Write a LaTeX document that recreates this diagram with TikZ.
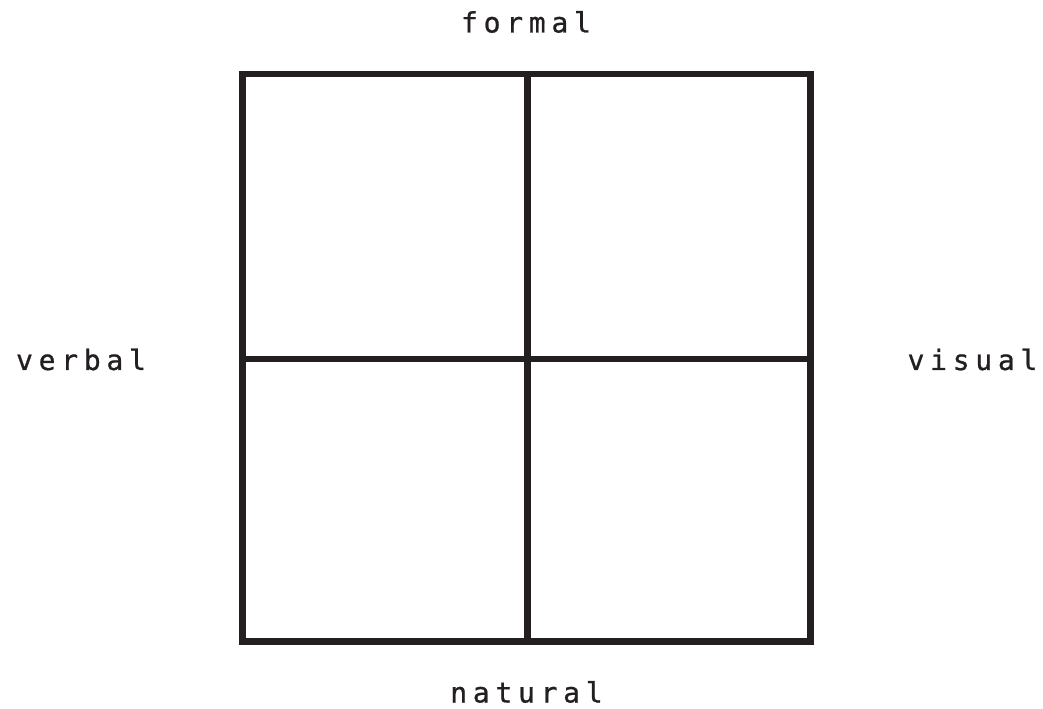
\documentclass[tikz,border=0pt]{standalone}
\usepackage{fontspec}
\newfontfamily\labfont[FakeBold=0.8]{DejaVu Sans Mono}
\definecolor{ink}{HTML}{231F20}
\newcommand{\trk}{\kern 4.3pt}
\begin{document}
\begin{tikzpicture}[x=0.75pt,y=-0.75pt,
  lab/.style={anchor=base,inner sep=0pt,text=ink,font=\labfont\fontsize{21pt}{25pt}\selectfont},
  gridline/.style={draw=ink,line width=4.7pt}]
\useasboundingbox (0,0) rectangle (1043,709);
\coordinate (tl) at (242.5,74);
\coordinate (br) at (810.5,641.5);
\coordinate (tm) at (527.5,74);
\coordinate (bm) at (527.5,641.5);
\coordinate (lm) at (242.5,359);
\coordinate (rm) at (810.5,359);
\draw[gridline] (tl) rectangle (br);
\draw[gridline] (tm) -- (bm);
\draw[gridline] (lm) -- (rm);
\node[lab] (formal) at (526,32.5) {f\trk o\trk r\trk m\trk a\trk l};
\node[lab] (verbal) at (81,370) {v\trk e\trk r\trk b\trk a\trk l};
\node[lab] (visual) at (972.5,370) {v\trk i\trk s\trk u\trk a\trk l};
\node[lab] (natural) at (526.5,702.5) {n\trk a\trk t\trk u\trk r\trk a\trk l};
\end{tikzpicture}
\end{document}
